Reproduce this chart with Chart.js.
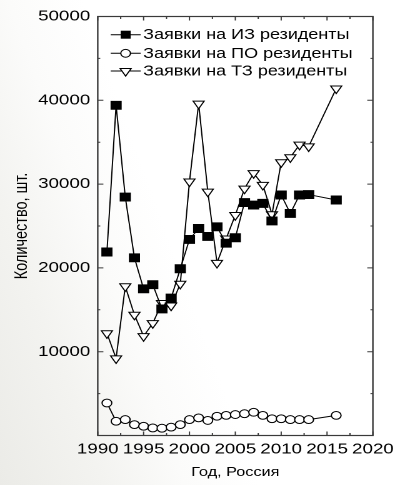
<!DOCTYPE html>
<html>
<head>
<meta charset="utf-8">
<script src="https://cdn.jsdelivr.net/npm/chart.js@4.4.1/dist/chart.umd.min.js"></script>
<style>
  html, body { margin: 0; padding: 0; overflow: hidden; }
  body {
    width: 400px; height: 485px;
    background: linear-gradient(70deg, #ebebe7 0%, #f3f3f0 18%, #fbfbfa 32%, #ffffff 45%);
  }
  #wrap {
    position: absolute; left: 0; top: 0;
    width: 320px; height: 485px;
    transform: scaleX(1.25); transform-origin: 0 0;
  }
</style>
</head>
<body>
<div id="wrap"><canvas id="c"></canvas></div>
<script>
// ---- data ----
const years = [1991, 1992, 1993, 1994, 1995, 1996, 1997, 1998, 1999, 2000, 2001, 2002,
               2003, 2004, 2005, 2006, 2007, 2008, 2009, 2010, 2011, 2012, 2013, 2016];
const izValues = [21900, 39400, 28450, 21200, 17500, 18000, 15100, 16400, 19900, 23400, 24700, 23750,
                  24900, 22950, 23600, 27800, 27500, 27700, 25600, 28700, 26500, 28700, 28750, 28100];
const poValues = [3880, 1700, 1900, 1300, 1100, 900, 870, 1000, 1300, 1900, 2100, 1800,
                  2300, 2400, 2500, 2600, 2770, 2400, 2000, 2000, 1900, 1900, 1900, 2400];
const tzValues = [12200, 9200, 17800, 14400, 11850, 13400, 15800, 15500, 18100, 30300, 39600, 29100,
                  20600, 23500, 26300, 29450, 31300, 29900, 26400, 32600, 33200, 34700, 34500, 41400];
const seriesNames = ['Заявки на ИЗ резиденты', 'Заявки на ПО резиденты', 'Заявки на ТЗ резиденты'];
const xTitle = 'Год, Россия';
const yTitle = 'Количество, шт.';
const xMin = 1990, xMax = 2020, xStep = 5;
const yMin = 0, yMax = 50000, yStep = 10000;

const FONT = '"Liberation Sans", Arial, sans-serif';
const toPts = vals => years.map((y, i) => ({ x: y, y: vals[i] }));

const frameAndTicks = {
  id: 'frameAndTicks',
  afterDatasetsDraw(chart) {
    const { ctx, chartArea: a, scales: { x, y } } = chart;
    ctx.save();
    ctx.strokeStyle = '#3a3a3a';
    ctx.lineWidth = 1.2;
    ctx.strokeRect(a.left, a.top, a.right - a.left, a.bottom - a.top);
    ctx.lineWidth = 1;
    ctx.beginPath();
    for (let v = xMin; v <= xMax + 1e-9; v += xStep / 2) {
      const px = x.getPixelForValue(v);
      const len = (Math.abs((v - xMin) % xStep) < 1e-9) ? 4 : 2.5;
      ctx.moveTo(px, a.bottom); ctx.lineTo(px, a.bottom - len);
      ctx.moveTo(px, a.top); ctx.lineTo(px, a.top + len);
    }
    for (let v = yMin; v <= yMax + 1e-9; v += yStep / 2) {
      const py = y.getPixelForValue(v);
      const len = (Math.abs((v - yMin) % yStep) < 1e-9) ? 4.5 : 2;
      ctx.moveTo(a.left, py); ctx.lineTo(a.left + len, py);
      ctx.moveTo(a.right, py); ctx.lineTo(a.right - len, py);
    }
    ctx.stroke();
    ctx.restore();
  }
};

function drawMarker(ctx, style, cx, cy) {
  ctx.beginPath();
  if (style === 'rect') {
    ctx.rect(cx - 4, cy - 4, 8, 8);
    ctx.fillStyle = '#000';
    ctx.fill();
  } else if (style === 'circle') {
    ctx.arc(cx, cy, 3.9, 0, Math.PI * 2);
    ctx.fillStyle = '#fff';
    ctx.fill(); ctx.stroke();
  } else {
    const r = 5.1;
    ctx.moveTo(cx - r * Math.sin(Math.PI / 3), cy - r / 2);
    ctx.lineTo(cx + r * Math.sin(Math.PI / 3), cy - r / 2);
    ctx.lineTo(cx, cy + r);
    ctx.closePath();
    ctx.fillStyle = '#fff';
    ctx.fill(); ctx.stroke();
  }
}

const insideLegend = {
  id: 'insideLegend',
  afterDraw(chart) {
    const { ctx } = chart;
    const rows = [34.7, 53.3, 71];
    ctx.save();
    ctx.strokeStyle = '#000';
    ctx.lineWidth = 1;
    ctx.font = '14.4px ' + FONT;
    ctx.textBaseline = 'middle';
    chart.data.datasets.forEach((ds, i) => {
      const yy = rows[i];
      ctx.beginPath();
      ctx.moveTo(88.5, yy); ctx.lineTo(112.5, yy);
      ctx.stroke();
      drawMarker(ctx, ds.pointStyle, 100.5, yy);
      ctx.fillStyle = '#000';
      ctx.fillText(ds.label, 114.5, yy + 0.5);
    });
    ctx.restore();
  }
};

const common = {
  borderColor: '#000',
  borderWidth: 1,
  pointBorderColor: '#000',
  pointBorderWidth: 1,
  pointHoverRadius: 0,
  tension: 0,
  fill: false
};

new Chart(document.getElementById('c'), {
  type: 'line',
  data: {
    datasets: [
      { ...common, label: seriesNames[0], data: toPts(izValues),
        pointStyle: 'rect', pointRadius: 5.6, pointBackgroundColor: '#000' },
      { ...common, label: seriesNames[1], data: toPts(poValues),
        pointStyle: 'circle', pointRadius: 3.9, pointBackgroundColor: '#fff' },
      { ...common, label: seriesNames[2], data: toPts(tzValues),
        pointStyle: 'triangle', pointRotation: 180, pointRadius: 5.1, pointBackgroundColor: '#fff' }
    ]
  },
  options: {
    responsive: true,
    maintainAspectRatio: false,
    devicePixelRatio: 2,
    animation: false,
    events: [],
    layout: { padding: { left: 0, right: 14, top: 16.5, bottom: 0 } },
    plugins: { legend: { display: false }, tooltip: { enabled: false }, title: { display: false } },
    scales: {
      x: {
        type: 'linear', min: xMin, max: xMax,
        afterFit(s) { s.height = 49.5; },
        grid: { display: true, drawOnChartArea: false, drawTicks: false },
        border: { display: false },
        ticks: { stepSize: xStep, padding: 5, color: '#000', maxRotation: 0, autoSkip: false,
                 font: { family: FONT, size: 15 }, callback: v => String(v) },
        title: { display: true, text: xTitle, color: '#000',
                 font: { family: FONT, size: 13 }, padding: { top: 0, bottom: 5 } }
      },
      y: {
        type: 'linear', min: yMin, max: yMax,
        afterFit(s) { s.width = 78.2; },
        grid: { display: true, drawOnChartArea: false, drawTicks: false },
        border: { display: false },
        ticks: { stepSize: yStep, padding: 6, color: '#000',
                 font: { family: FONT, size: 15 }, callback: v => (v === 0 ? '' : String(v)) },
        title: { display: true, text: yTitle, color: '#000',
                 font: { family: FONT, size: 14.5 }, padding: { top: 9, bottom: 0 } }
      }
    }
  },
  plugins: [frameAndTicks, insideLegend]
});
</script>
</body>
</html>
